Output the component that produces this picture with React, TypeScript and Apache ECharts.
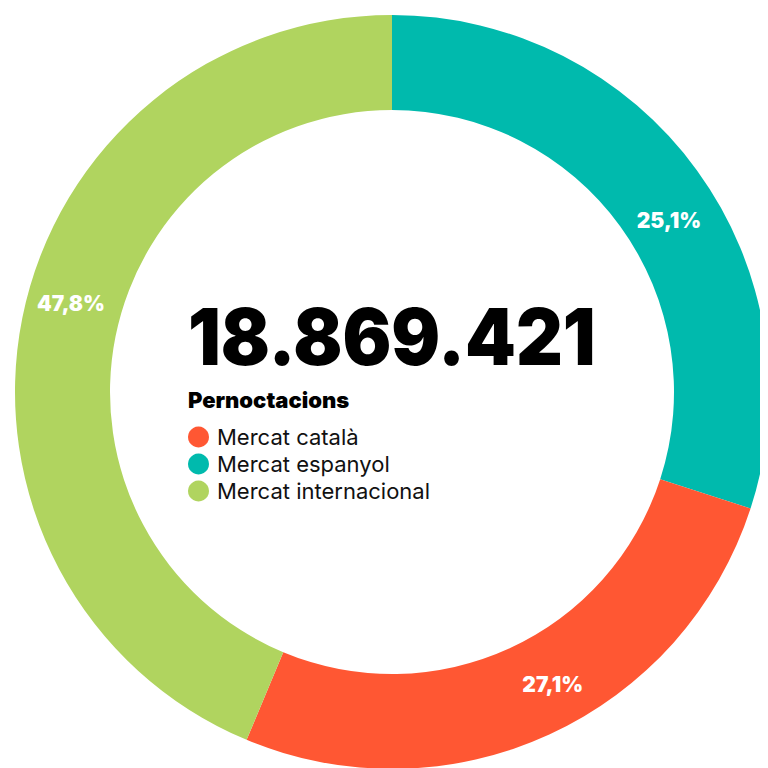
import React, { useEffect, useRef } from "react";
import * as echarts from "echarts";

// Slices in drawing order, clockwise from 12 o'clock
const sliceNames = ["Mercat espanyol", "Mercat català", "Mercat internacional"];
const sliceShares = [30.0, 26.3, 43.7]; // angular shares read from the ring
const sliceLabels = ["25,1%", "27,1%", "47,8%"]; // printed labels
const sliceColors = ["#00BAAD", "#FF5733", "#B0D45F"];

const legendOrder = ["Mercat català", "Mercat espanyol", "Mercat internacional"];
const totalText = "18.869.421";
const subtitleText = "Pernoctacions";

// small nudges so the percentage labels sit where the reference prints them
const labelNudges = [
  [8, 24],
  [22, -10],
  [5, -23],
];

export default function App() {
  const ref = useRef<HTMLDivElement>(null);

  useEffect(() => {
    if (!ref.current) return;
    const chart = echarts.init(ref.current, undefined, { renderer: "svg" });
    chart.setOption({
      animation: false,
      backgroundColor: "#ffffff",
      color: sliceColors,
      legend: {
        orient: "vertical",
        left: 180,
        top: 418,
        padding: 0,
        data: legendOrder,
        icon: "circle",
        itemWidth: 21,
        itemHeight: 21,
        itemGap: 5,
        selectedMode: false,
        textStyle: {
          fontFamily: "Inter",
          fontSize: 22,
          color: "#111111",
          padding: [0, 0, 0, 3],
        },
      },
      graphic: [
        {
          type: "text",
          left: 180,
          top: 290,
          scaleX: 0.93,
          style: {
            text: totalText,
            fontFamily: "Inter",
            fontWeight: 900,
            fontSize: 78,
            fill: "#000000",
          },
        },
        {
          type: "text",
          left: 180,
          top: 381,
          style: {
            text: subtitleText,
            fontFamily: "Inter",
            fontWeight: 900,
            fontSize: 22,
            fill: "#000000",
          },
        },
      ],
      series: [
        {
          type: "pie",
          center: [384, 384],
          radius: [282, 377],
          startAngle: 90,
          clockwise: true,
          avoidLabelOverlap: false,
          label: {
            show: true,
            position: "inside",
            color: "#ffffff",
            fontFamily: "Inter",
            fontWeight: 900,
            fontSize: 21,
            formatter: (p: any) => sliceLabels[p.dataIndex],
          },
          labelLayout: (p: any) => ({
            dx: labelNudges[p.dataIndex][0],
            dy: labelNudges[p.dataIndex][1],
          }),
          labelLine: { show: false },
          emphasis: { disabled: true },
          data: sliceNames.map((n, i) => ({
            name: n,
            value: sliceShares[i],
            itemStyle: { color: sliceColors[i] },
          })),
        },
      ],
    });
    return () => chart.dispose();
  }, []);

  return <div ref={ref} style={{ width: 768, height: 768 }} />;
}
